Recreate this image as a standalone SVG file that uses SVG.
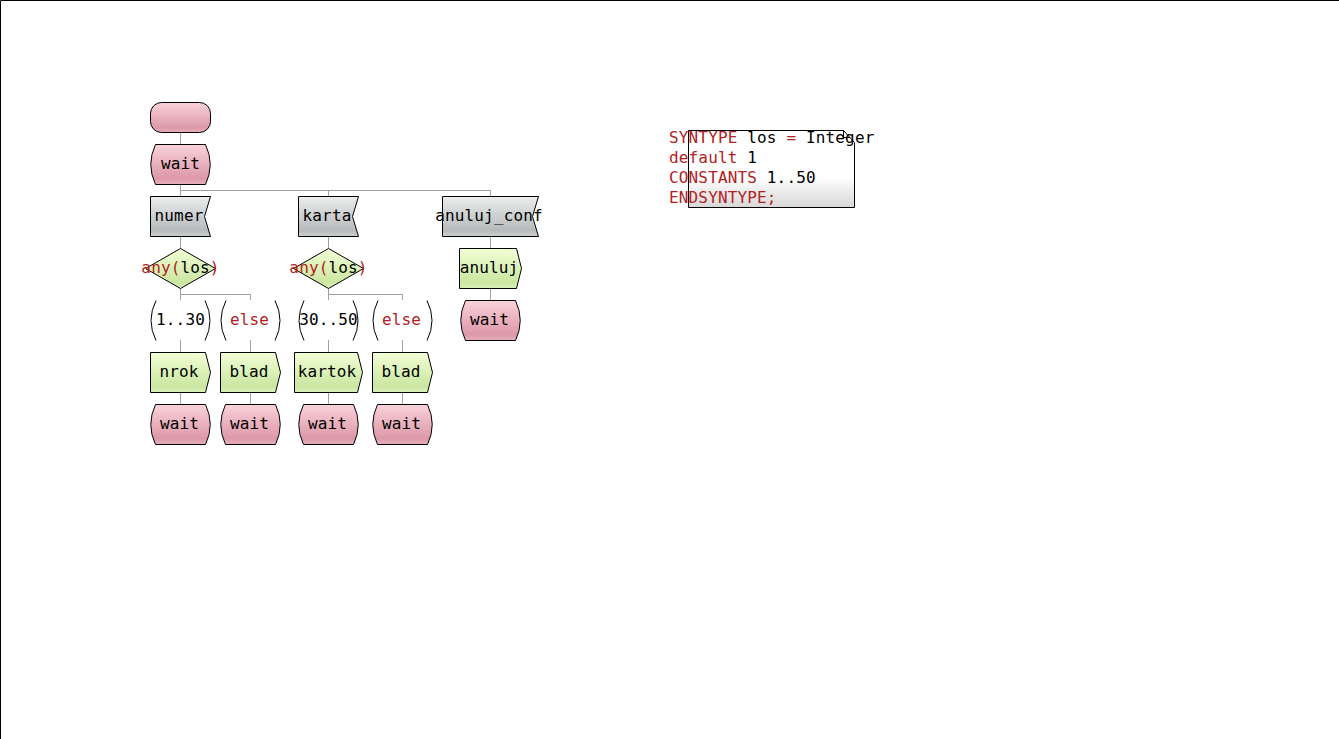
<svg xmlns="http://www.w3.org/2000/svg" width="1339" height="739" viewBox="0 0 1339 739">
<defs>
<linearGradient id="gState" x1="0" y1="0" x2="0" y2="1"><stop offset="0" stop-color="#fad2da"/><stop offset="0.85" stop-color="#dc98a8"/><stop offset="1" stop-color="#e8b0bc"/></linearGradient>
<linearGradient id="gInput" x1="0" y1="0" x2="0" y2="1"><stop offset="0" stop-color="#eceeee"/><stop offset="0.85" stop-color="#b6baba"/><stop offset="1" stop-color="#cdd0d0"/></linearGradient>
<linearGradient id="gGreen" x1="0" y1="0" x2="0" y2="1"><stop offset="0" stop-color="#f2ffd6"/><stop offset="0.85" stop-color="#cae6a0"/><stop offset="1" stop-color="#dcf0bc"/></linearGradient>
<linearGradient id="gText" x1="0" y1="0" x2="0" y2="1"><stop offset="0" stop-color="#ffffff"/><stop offset="0.6" stop-color="#ffffff"/><stop offset="1" stop-color="#d8d8d8"/></linearGradient>
</defs>
<style>
.t{font-family:"DejaVu Sans Mono",monospace;font-size:16px;letter-spacing:0.15px;fill:#000}
.r{fill:#b22222}
.m{text-anchor:middle}
.st{fill:url(#gState);stroke:#000;stroke-width:1}
.in{fill:url(#gInput);stroke:#000;stroke-width:1}
.gr{fill:url(#gGreen);stroke:#000;stroke-width:1}
.ans{fill:none;stroke:#000;stroke-width:1}
.c{fill:none;stroke:#a0a0a0;stroke-width:1}
</style>
<rect x="0" y="0" width="1339" height="739" fill="#fff"/>
<path d="M0.5,739 V0.5 H1339" fill="none" stroke="#000" stroke-width="1"/>

<g id="connectors">
<path class="c" d="M180.5,132 V144 M180.5,184 V196 M180.5,190.5 H490.5 V196 M328.5,190.5 V196"/>
<path class="c" d="M180.5,236 V248 M180.5,288 V300 M180.5,294.5 H250.5 V300 M180.5,340 V352 M250.5,340 V352 M180.5,392 V404 M250.5,392 V404"/>
<path class="c" d="M328.5,236 V248 M328.5,288 V300 M328.5,294.5 H402.5 V300 M328.5,340 V352 M402.5,340 V352 M328.5,392 V404 M402.5,392 V404"/>
<path class="c" d="M490.5,236 V248 M490.5,288 V300"/>
</g>

<g id="start"><rect class="st" x="150.5" y="102.5" width="60" height="30" rx="11" ry="11"/></g>

<g id="wait0"><path class="st" d="M155.5,144.5 H205.5 Q215,164.5 205.5,184.5 H155.5 Q146,164.5 155.5,144.5 Z"/><text class="t m" x="180.5" y="169">wait</text></g>

<g id="in_numer"><path class="in" d="M150.5,196.5 H210.5 L204.5,216.5 L210.5,236.5 H150.5 Z"/><text class="t m" x="179" y="221">numer</text></g>
<g id="in_karta"><path class="in" d="M298.5,196.5 H358.5 L352.5,216.5 L358.5,236.5 H298.5 Z"/><text class="t m" x="327" y="221">karta</text></g>
<g id="in_anuluj_conf"><path class="in" d="M442.5,196.5 H538.5 L532.5,216.5 L538.5,236.5 H442.5 Z"/><text class="t m" x="489" y="221">anuluj_conf</text></g>

<g id="dec1"><path class="gr" d="M180.5,248.5 L215.5,268.5 L180.5,288.5 L145.5,268.5 Z"/><text class="t m" x="180.5" y="273"><tspan class="r">any(</tspan>los<tspan class="r">)</tspan></text></g>
<g id="dec2"><path class="gr" d="M328.5,248.5 L363.5,268.5 L328.5,288.5 L293.5,268.5 Z"/><text class="t m" x="328.5" y="273"><tspan class="r">any(</tspan>los<tspan class="r">)</tspan></text></g>

<g id="ans1"><path class="ans" d="M156,300.5 Q146,320.5 156,340.5 M205,300.5 Q215,320.5 205,340.5"/><text class="t m" x="180.5" y="325">1..30</text></g>
<g id="ans2"><path class="ans" d="M226,300.5 Q216,320.5 226,340.5 M275,300.5 Q285,320.5 275,340.5"/><text class="t m r" x="249.5" y="325">else</text></g>
<g id="ans3"><path class="ans" d="M304,300.5 Q294,320.5 304,340.5 M353,300.5 Q363,320.5 353,340.5"/><text class="t m" x="328.5" y="325">30..50</text></g>
<g id="ans4"><path class="ans" d="M378,300.5 Q368,320.5 378,340.5 M427,300.5 Q437,320.5 427,340.5"/><text class="t m r" x="401.5" y="325">else</text></g>

<g id="out_nrok"><path class="gr" d="M150.5,352.5 H205.5 L210.5,372.5 L205.5,392.5 H150.5 Z"/><text class="t m" x="179" y="377">nrok</text></g>
<g id="out_blad1"><path class="gr" d="M220.5,352.5 H275.5 L280.5,372.5 L275.5,392.5 H220.5 Z"/><text class="t m" x="249" y="377">blad</text></g>
<g id="out_kartok"><path class="gr" d="M294.5,352.5 H357.5 L362.5,372.5 L357.5,392.5 H294.5 Z"/><text class="t m" x="327" y="377">kartok</text></g>
<g id="out_blad2"><path class="gr" d="M372.5,352.5 H427.5 L432.5,372.5 L427.5,392.5 H372.5 Z"/><text class="t m" x="401" y="377">blad</text></g>
<g id="out_anuluj"><path class="gr" d="M459.5,248.5 H516.5 L521.5,268.5 L516.5,288.5 H459.5 Z"/><text class="t m" x="489" y="273">anuluj</text></g>

<g id="wait1"><path class="st" d="M155.5,404.5 H205.5 Q215,424.5 205.5,444.5 H155.5 Q146,424.5 155.5,404.5 Z"/><text class="t m" x="179.5" y="429">wait</text></g>
<g id="wait2"><path class="st" d="M225.5,404.5 H275.5 Q285,424.5 275.5,444.5 H225.5 Q216,424.5 225.5,404.5 Z"/><text class="t m" x="249.5" y="429">wait</text></g>
<g id="wait3"><path class="st" d="M303.5,404.5 H353.5 Q363,424.5 353.5,444.5 H303.5 Q294,424.5 303.5,404.5 Z"/><text class="t m" x="327.5" y="429">wait</text></g>
<g id="wait4"><path class="st" d="M377.5,404.5 H427.5 Q437,424.5 427.5,444.5 H377.5 Q368,424.5 377.5,404.5 Z"/><text class="t m" x="401.5" y="429">wait</text></g>
<g id="wait5"><path class="st" d="M465.5,300.5 H515.5 Q525,320.5 515.5,340.5 H465.5 Q456,320.5 465.5,300.5 Z"/><text class="t m" x="489.5" y="325">wait</text></g>

<g id="textbox">
<path d="M688.5,130.5 H843.5 L854.5,142.5 V207.5 H688.5 Z" fill="url(#gText)" stroke="#000" stroke-width="1"/>
<path d="M843.5,130.5 V137.5 H850" fill="none" stroke="#000" stroke-width="1"/>
<text class="t" x="669" y="143"><tspan class="r">SYNTYPE</tspan> los <tspan class="r">=</tspan> Integer</text>
<text class="t" x="669" y="163"><tspan class="r">default</tspan> 1</text>
<text class="t" x="669" y="183"><tspan class="r">CONSTANTS</tspan> 1..50</text>
<text class="t r" x="669" y="203">ENDSYNTYPE;</text>
</g>
</svg>
